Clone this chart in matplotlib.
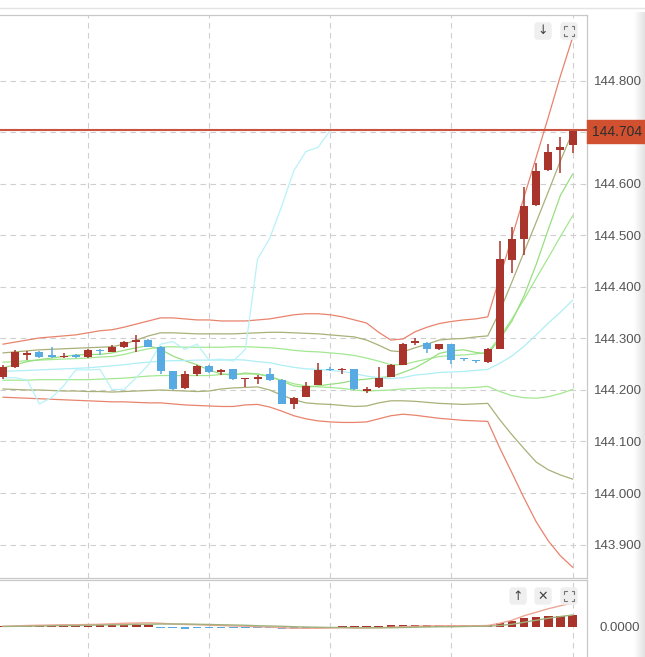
import matplotlib
matplotlib.use("Agg")
import matplotlib.pyplot as plt
import numpy as np
from matplotlib.patches import FancyBboxPatch, Rectangle
from matplotlib.lines import Line2D
from matplotlib.colors import LinearSegmentedColormap

plt.rcParams['font.family'] = ['Liberation Sans', 'DejaVu Sans']

# candles (one per bar, left to right)
opens = [144.225, 144.245, 144.268, 144.274, 144.266, 144.264, 144.266, 144.264, 144.278, 144.274, 144.283, 144.294,
         144.298, 144.284, 144.236, 144.203, 144.231, 144.247, 144.234, 144.240, 144.221, 144.222, 144.231, 144.220,
         144.172, 144.187, 144.210, 144.241, 144.238, 144.240, 144.199, 144.205, 144.226, 144.249, 144.292, 144.292,
         144.279, 144.289, 144.262, 144.258, 144.255, 144.279, 144.452, 144.493, 144.559, 144.627, 144.665, 144.675]
highs = [144.248, 144.277, 144.276, 144.275, 144.284, 144.271, 144.270, 144.279, 144.279, 144.287, 144.296, 144.307,
         144.299, 144.285, 144.237, 144.236, 144.248, 144.248, 144.240, 144.241, 144.224, 144.229, 144.242, 144.221,
         144.186, 144.216, 144.252, 144.244, 144.242, 144.241, 144.205, 144.244, 144.251, 144.291, 144.300, 144.293,
         144.290, 144.290, 144.263, 144.259, 144.282, 144.489, 144.517, 144.595, 144.641, 144.677, 144.691, 144.705]
lows = [144.222, 144.243, 144.259, 144.262, 144.263, 144.262, 144.262, 144.263, 144.268, 144.273, 144.282, 144.274,
        144.283, 144.231, 144.200, 144.202, 144.227, 144.233, 144.229, 144.220, 144.205, 144.211, 144.218, 144.172,
        144.163, 144.186, 144.209, 144.236, 144.232, 144.200, 144.194, 144.203, 144.225, 144.248, 144.288, 144.271,
        144.277, 144.250, 144.257, 144.252, 144.253, 144.279, 144.428, 144.462, 144.557, 144.626, 144.622, 144.661]
closes = [144.245, 144.274, 144.272, 144.265, 144.265, 144.266, 144.265, 144.278, 144.276, 144.284, 144.294, 144.297,
          144.284, 144.236, 144.201, 144.231, 144.247, 144.234, 144.239, 144.221, 144.223, 144.224, 144.219, 144.173,
          144.185, 144.208, 144.239, 144.239, 144.240, 144.201, 144.201, 144.224, 144.249, 144.289, 144.294, 144.279,
          144.289, 144.258, 144.260, 144.256, 144.279, 144.454, 144.494, 144.557, 144.626, 144.663, 144.671, 144.704]

# band lines
mid = [144.236, 144.237, 144.238, 144.239, 144.240, 144.241, 144.242, 144.243, 144.245, 144.247, 144.249, 144.252,
       144.254, 144.256, 144.257, 144.257, 144.258, 144.258, 144.258, 144.259, 144.258, 144.255, 144.253, 144.248,
       144.244, 144.241, 144.240, 144.238, 144.236, 144.232, 144.227, 144.224, 144.222, 144.224, 144.229, 144.231,
       144.234, 144.235, 144.236, 144.238, 144.240, 144.252, 144.266, 144.285, 144.307, 144.330, 144.351, 144.374]
up3 = [144.289, 144.293, 144.297, 144.301, 144.303, 144.305, 144.307, 144.311, 144.315, 144.317, 144.322, 144.328,
       144.334, 144.340, 144.340, 144.338, 144.336, 144.336, 144.334, 144.334, 144.334, 144.336, 144.338, 144.342,
       144.346, 144.348, 144.348, 144.346, 144.342, 144.336, 144.330, 144.312, 144.297, 144.299, 144.313, 144.322,
       144.329, 144.333, 144.336, 144.338, 144.342, 144.419, 144.497, 144.575, 144.652, 144.730, 144.810, 144.884]
lo3 = [144.186, 144.185, 144.184, 144.183, 144.182, 144.181, 144.180, 144.179, 144.178, 144.177, 144.177, 144.176,
       144.175, 144.175, 144.173, 144.171, 144.170, 144.169, 144.168, 144.168, 144.171, 144.172, 144.167, 144.159,
       144.150, 144.144, 144.140, 144.138, 144.137, 144.137, 144.138, 144.144, 144.150, 144.153, 144.151, 144.148,
       144.145, 144.143, 144.141, 144.140, 144.139, 144.087, 144.039, 143.990, 143.944, 143.907, 143.878, 143.856]
up2 = [144.272, 144.274, 144.276, 144.278, 144.279, 144.280, 144.281, 144.282, 144.283, 144.284, 144.289, 144.297,
       144.305, 144.311, 144.311, 144.310, 144.309, 144.309, 144.309, 144.309, 144.310, 144.311, 144.312, 144.312,
       144.311, 144.310, 144.309, 144.307, 144.305, 144.303, 144.297, 144.287, 144.276, 144.274, 144.282, 144.289,
       144.297, 144.299, 144.300, 144.303, 144.305, 144.353, 144.410, 144.468, 144.526, 144.585, 144.645, 144.701]
lo2 = [144.202, 144.201, 144.200, 144.200, 144.199, 144.198, 144.198, 144.197, 144.197, 144.196, 144.197, 144.198,
       144.199, 144.200, 144.199, 144.198, 144.197, 144.198, 144.202, 144.204, 144.205, 144.206, 144.200, 144.190,
       144.181, 144.175, 144.173, 144.172, 144.170, 144.168, 144.169, 144.175, 144.179, 144.179, 144.178, 144.176,
       144.174, 144.173, 144.172, 144.173, 144.174, 144.142, 144.113, 144.086, 144.060, 144.045, 144.035, 144.027]
up1 = [144.254, 144.255, 144.257, 144.258, 144.259, 144.260, 144.261, 144.262, 144.264, 144.265, 144.269, 144.275,
       144.280, 144.283, 144.284, 144.283, 144.283, 144.283, 144.283, 144.284, 144.284, 144.283, 144.282, 144.280,
       144.277, 144.275, 144.274, 144.272, 144.270, 144.267, 144.262, 144.256, 144.249, 144.249, 144.255, 144.260,
       144.265, 144.267, 144.268, 144.270, 144.273, 144.303, 144.338, 144.376, 144.417, 144.457, 144.498, 144.538]
lo1 = [144.219, 144.219, 144.219, 144.220, 144.220, 144.220, 144.220, 144.220, 144.221, 144.222, 144.223, 144.225,
       144.227, 144.228, 144.228, 144.228, 144.228, 144.228, 144.230, 144.231, 144.231, 144.231, 144.226, 144.219,
       144.212, 144.208, 144.206, 144.205, 144.203, 144.200, 144.198, 144.199, 144.200, 144.202, 144.203, 144.204,
       144.204, 144.204, 144.204, 144.205, 144.207, 144.197, 144.189, 144.185, 144.184, 144.187, 144.193, 144.201]
ma_fast = [144.243, 144.249, 144.255, 144.259, 144.262, 144.265, 144.268, 144.269, 144.269, 144.272, 144.277, 144.282,
           144.286, 144.279, 144.266, 144.257, 144.249, 144.239, 144.231, 144.229, 144.233, 144.231, 144.227, 144.217,
           144.208, 144.205, 144.208, 144.211, 144.214, 144.219, 144.221, 144.224, 144.226, 144.234, 144.243, 144.256,
           144.271, 144.276, 144.278, 144.273, 144.270, 144.299, 144.334, 144.383, 144.444, 144.512, 144.578, 144.619]
lag_shift = 20

# lower panel oscillator
hist = [0.004, 0.005, 0.005, 0.005, 0.005, 0.005, 0.005, 0.005, 0.006, 0.006, 0.006, 0.007,
        0.006, -0.003, -0.006, -0.007, -0.006, -0.006, -0.006, -0.006, -0.006, -0.006, -0.006, -0.008,
        -0.008, -0.007, -0.004, -0.002, 0.002, 0.003, 0.004, 0.005, 0.006, 0.008, 0.009, 0.008,
        0.008, 0.007, 0.006, 0.006, 0.007, 0.015, 0.024, 0.034, 0.040, 0.044, 0.044, 0.046]
dif = [0.002, 0.003, 0.005, 0.006, 0.007, 0.008, 0.008, 0.009, 0.010, 0.012, 0.014, 0.015,
       0.016, 0.014, 0.011, 0.009, 0.008, 0.006, 0.005, 0.003, 0.002, 0.000, -0.001, -0.004,
       -0.006, -0.006, -0.006, -0.005, -0.004, -0.005, -0.005, -0.004, -0.002, 0.000, 0.002, 0.003,
       0.004, 0.004, 0.004, 0.004, 0.005, 0.014, 0.026, 0.044, 0.058, 0.072, 0.084, 0.095]
dea = [0.001, 0.002, 0.002, 0.003, 0.004, 0.005, 0.005, 0.006, 0.007, 0.008, 0.008, 0.010,
       0.010, 0.011, 0.011, 0.011, 0.010, 0.009, 0.008, 0.007, 0.006, 0.004, 0.003, 0.002,
       0.000, -0.001, -0.002, -0.003, -0.003, -0.004, -0.004, -0.004, -0.004, -0.003, -0.002, -0.001,
       0.000, 0.000, 0.001, 0.002, 0.002, 0.005, 0.010, 0.018, 0.026, 0.034, 0.041, 0.047]

price_ticks = [143.9, 144.0, 144.1, 144.2, 144.3, 144.4, 144.5, 144.6, 144.7, 144.8]
last_price = 144.704

UP = '#a8342c'
DOWN = '#58aae2'
GRID = '#cfcfcf'
W, H = 645, 657

fig = plt.figure(figsize=(W / 100, H / 100), dpi=100)


def fx(x):
    return x / W


def fy(y):
    return 1 - y / H


n = len(closes)
x = np.arange(n)
xlim = (-0.25, 48.19)

# grey strip at the right edge (behind everything)
strip = fig.add_axes([fx(634), 0, fx(645) - fx(634), fy(12)])
strip.set_zorder(-5)
cmap = LinearSegmentedColormap.from_list('edge', ['#ffffff', '#e2e2e2'])
strip.imshow(np.linspace(0, 1, 50).reshape(1, -1), aspect='auto', cmap=cmap)
strip.set_axis_off()

# main price panel
ax = fig.add_axes([0, fy(578), fx(587), (578 - 15) / H])
ax.set_xlim(*xlim)
ax.set_ylim(143.835, 144.928)

ax.plot(x, up3, color='#e8836c', lw=0.9, zorder=2)
ax.plot(x, lo3, color='#e8836c', lw=0.9, zorder=2)
ax.plot(x, up2, color='#aab078', lw=0.9, zorder=2)
ax.plot(x, lo2, color='#aab078', lw=0.9, zorder=2)
ax.plot(x, up1, color='#a3e891', lw=0.9, zorder=2)
ax.plot(x, lo1, color='#a3e891', lw=0.9, zorder=2)
ax.plot(x, ma_fast, color='#98df80', lw=0.9, zorder=2)
ax.plot(x, mid, color='#aeeef6', lw=0.9, zorder=2)
ax.plot(x[:n - lag_shift], closes[lag_shift:], color='#b8f2f8', lw=0.9, zorder=2)

o = np.array(opens)
c = np.array(closes)
colors = [UP if cc >= oo else DOWN for oo, cc in zip(o, c)]
ax.vlines(x, lows, highs, colors=colors, lw=1.1, zorder=3)
body_low = np.minimum(o, c)
body_h = np.maximum(np.abs(c - o), 0.0025)
ax.bar(x, body_h, bottom=body_low, width=0.66, color=colors, zorder=4)

ax.axhline(last_price, color='#c85440', lw=1.5, zorder=5)

ax.set_yticks(price_ticks)
# the 144.700 label sits under the last-price tag
ax.set_yticklabels(['' if abs(t - 144.7) < 1e-9 else '%.3f' % t for t in price_ticks])
ax.set_xticks([7, 17, 27, 37, 47])
ax.tick_params(axis='x', length=0, labelbottom=False)
ax.yaxis.tick_right()
ax.tick_params(axis='y', length=0, pad=5, labelsize=9.5, labelcolor='#555555')
ax.grid(True, color=GRID, lw=0.8, linestyle=(0, (5, 4)), zorder=0)
ax.set_axisbelow(True)
ax.spines['left'].set_visible(False)
for side in ['top', 'right', 'bottom']:
    ax.spines[side].set_color('#c8c8c8')
    ax.spines[side].set_linewidth(0.9)

# lower oscillator panel
ax2 = fig.add_axes([0, fy(700), fx(587), 120 / H])
ax2.set_xlim(*xlim)
ax2.set_ylim(-0.293, 0.187)
hcol = [UP if h >= 0 else DOWN for h in hist]
ax2.bar(x, hist, width=0.7, color=hcol, zorder=3)
ax2.plot(x, dif, color='#f0a595', lw=1.0, zorder=4)
ax2.plot(x, dea, color='#9fb27c', lw=1.0, zorder=4)
ax2.set_xticks([7, 17, 27, 37, 47])
ax2.tick_params(axis='x', length=0, labelbottom=False)
ax2.set_yticks([0.0])
ax2.set_yticklabels(['0.0000'])
ax2.yaxis.tick_right()
ax2.tick_params(axis='y', length=0, pad=9, labelsize=9.5, labelcolor='#555555')
ax2.grid(True, axis='x', color=GRID, lw=0.8, linestyle=(0, (5, 4)), zorder=0)
ax2.spines['left'].set_visible(False)
ax2.spines['bottom'].set_visible(False)
for side in ['top', 'right']:
    ax2.spines[side].set_color('#c8c8c8')
    ax2.spines[side].set_linewidth(0.9)

# faint line above the panel
fig.add_artist(Line2D([0, 1], [fy(7.5), fy(7.5)], color='#e4e4e4', lw=1.0,
                      transform=fig.transFigure))

# last price tag on the axis
fig.add_artist(Rectangle((fx(587), fy(143)), fx(645) - fx(587), 23 / H,
                         transform=fig.transFigure, color='#d0502f', zorder=6))
fig.text(fx(592), fy(131.5), '%.3f' % last_price, fontsize=10, color='#2e2e2e',
         va='center', ha='left', zorder=7)


def button(cx, cy):
    fig.add_artist(FancyBboxPatch((fx(cx - 8), fy(cy + 8)), 16 / W, 16 / H,
                                  boxstyle='round,pad=0,rounding_size=0.004',
                                  transform=fig.transFigure, color='#efefef', zorder=6))


def expand_icon(cx, cy):
    s, t = 5, 2.5
    for dx, dy in [(-1, -1), (1, -1), (-1, 1), (1, 1)]:
        xs = [cx + dx * s, cx + dx * s, cx + dx * (s - t)]
        ys = [cy + dy * (s - t), cy + dy * s, cy + dy * s]
        fig.add_artist(Line2D([fx(v) for v in xs], [fy(v) for v in ys], color='#777777',
                              lw=0.8, transform=fig.transFigure, zorder=7))


for bx, by in [(543, 31), (569, 31), (518, 596), (543, 596), (569, 596)]:
    button(bx, by)
fig.text(fx(543), fy(31), '↓', fontsize=9, color='#444444', ha='center', va='center',
         family=['DejaVu Sans'], zorder=7)
fig.text(fx(518), fy(596), '↑', fontsize=9, color='#444444', ha='center', va='center',
         family=['DejaVu Sans'], zorder=7)
fig.text(fx(543), fy(596), '✕', fontsize=9, color='#444444', ha='center', va='center',
         family=['DejaVu Sans'], zorder=7)
expand_icon(569, 31)
expand_icon(569, 596)

fig.savefig('out.png', dpi=100)
